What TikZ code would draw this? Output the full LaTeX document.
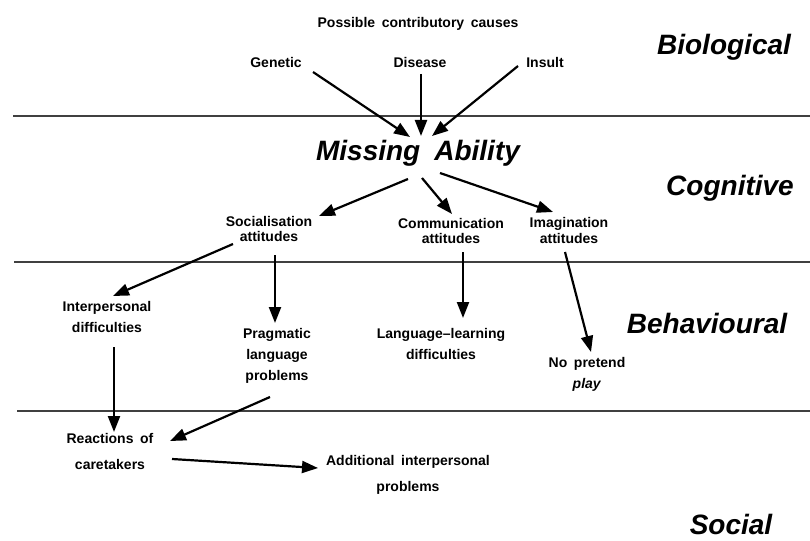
\documentclass[tikz,border=0pt]{standalone}
\usepackage{fontspec}
\setmainfont[WordSpace=1.7]{Liberation Sans}
\usetikzlibrary{arrows.meta,calc}
\tikzset{
  lbl/.style={font=\bfseries\fontsize{14}{15}\selectfont, align=center, inner sep=0pt},
  lblB/.style={lbl, font=\bfseries\fontsize{14}{21}\selectfont},
  lblC/.style={lbl, font=\bfseries\fontsize{14}{26}\selectfont},
  level/.style={font=\bfseries\itshape\fontsize{28}{30}\selectfont, inner sep=0pt},
  sep/.style={line width=1.3pt, draw=black!75},
  arr/.style={line width=2.2pt, -{Triangle[length=16pt,width=12pt]}}
}
\begin{document}
\begin{tikzpicture}[x=1pt,y=-1pt]
\useasboundingbox (0,0) rectangle (810,540);
% separator lines
\coordinate (l1a) at (13,116); \coordinate (l1b) at (810,116);
\coordinate (l2a) at (14,262); \coordinate (l2b) at (810,262);
\coordinate (l3a) at (17,411); \coordinate (l3b) at (810,411);
\draw[sep] (l1a) -- (l1b);
\draw[sep] (l2a) -- (l2b);
\draw[sep] (l3a) -- (l3b);
% level labels
\node[level] (bio) at (724,47) {Biological};
\node[level] (cog) at (730,188) {Cognitive};
\node[level] (beh) at (707,323) {Behavioural};
\node[level] (soc) at (731,524) {Social};
% nodes
\node[lbl] (causes) at (418,24) {Possible contributory causes};
\node[lbl] (gen) at (276,62) {Genetic};
\node[lbl] (dis) at (420,62) {Disease};
\node[lbl] (ins) at (545,62) {Insult};
\node[level] (miss) at (418,153) {Missing\hspace{14pt}Ability};
\node[lbl] (sa) at (269,229) {Socialisation\\attitudes};
\node[lbl] (ca) at (451,231) {Communication\\attitudes};
\node[lbl, font=\bfseries\fontsize{14}{16}\selectfont] (ia) at (569,230) {Imagination\\attitudes};
\node[lblB] (ipd) at (107,317) {Interpersonal\\difficulties};
\node[lblB] (prag) at (277,356) {Pragmatic\\language\\problems};
\node[lblB] (lang) at (441,344) {Language--learning\\difficulties};
\node[lblB] (npp) at (587,374) {No pretend\\\textit{play}};
\node[lblC] (reac) at (110,451) {Reactions of\\caretakers};
\node[lblC] (add) at (408,475) {Additional interpersonal\\problems};
% connectors
\draw[arr] ($(gen)+(37,10)$) -- ($(miss)+(-8,-16)$);
\draw[arr] ($(dis)+(1,12)$) -- ($(miss)+(3,-17)$);
\draw[arr] ($(ins)+(-27,4)$) -- ($(miss)+(14,-17)$);
\draw[arr] ($(miss)+(-10,26)$) -- ($(sa)+(50,-13)$);
\draw[arr] ($(miss)+(4,25)$) -- ($(ca)+(1,-17)$);
\draw[arr] ($(miss)+(22,20)$) -- ($(ia)+(-16,-18)$);
\draw[arr] ($(sa)+(-36,15)$) -- ($(ipd)+(6,-21)$);
\draw[arr] ($(sa)+(6,26)$) -- ($(prag)+(-2,-33)$);
\draw[arr] ($(ca)+(12,21)$) -- ($(lang)+(22,-26)$);
\draw[arr] ($(ia)+(-4,22)$) -- ($(npp)+(4,-22)$);
\draw[arr] ($(ipd)+(7,30)$) -- ($(reac)+(4,-19)$);
\draw[arr] ($(prag)+(-7,41)$) -- ($(reac)+(60,-10)$);
\draw[arr] ($(reac)+(62,8)$) -- ($(add)+(-90,-7)$);
\end{tikzpicture}
\end{document}
